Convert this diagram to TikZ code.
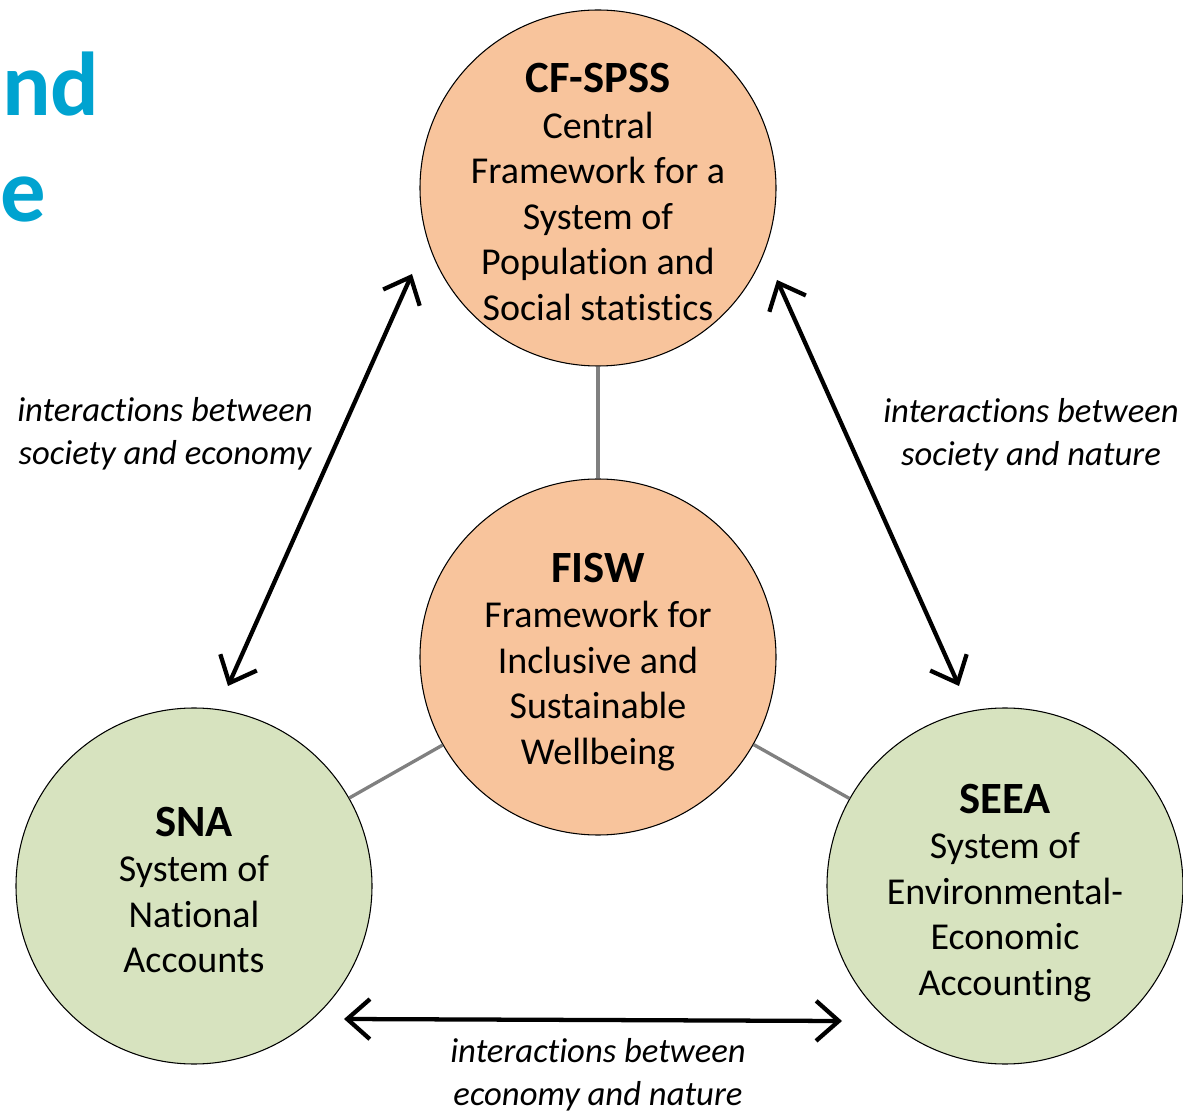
\documentclass[tikz,border=0pt]{standalone}
\usepackage{fontspec}
\setmainfont{Carlito}[Ligatures=NoCommon]
\usetikzlibrary{arrows.meta}
\definecolor{orangefill}{HTML}{F8C49C}
\definecolor{greenfill}{HTML}{D7E3BF}
\definecolor{titleblue}{HTML}{00A3D0}
\definecolor{linkgray}{HTML}{808080}
\newcommand\bubbletitle[1]{{\fontsize{33.5}{38}\selectfont\bfseries #1}}
\begin{document}
\begin{tikzpicture}[x=0.75pt,y=-0.75pt,
  bubble/.style={circle,draw=black,line width=0.8pt,minimum size=267pt,inner sep=0pt},
  orangeb/.style={bubble,fill=orangefill},
  greenb/.style={bubble,fill=greenfill},
  btext/.style={align=center,font=\fontsize{28.5}{34.2}\selectfont,inner sep=0pt},
  ilabel/.style={align=center,font=\fontsize{26}{32}\selectfont\itshape,inner sep=0pt},
  link/.style={draw=linkgray,line width=2.5pt},
  interact/.style={draw=black,line width=3.2pt,{Straight Barb[length=17pt,width=30pt]}-{Straight Barb[length=17pt,width=30pt]}}]
\useasboundingbox (0,0) rectangle (1183,1112);
% title fragment
\node[anchor=base west,inner sep=0pt,text=titleblue,font=\fontsize{68}{80}\selectfont\bfseries] (tt1) at (2,116) {nd};
\node[anchor=base west,inner sep=0pt,text=titleblue,font=\fontsize{68}{80}\selectfont\bfseries] (tt2) at (0,222) {e};
% circles
\node[orangeb] (cf) at (598,188) {};
\node[orangeb] (fisw) at (598,657) {};
\node[greenb] (sna) at (194,886) {};
\node[greenb] (seea) at (1005,886) {};
% links
\draw[link] (cf) -- (fisw);
\draw[link] (fisw) -- (sna);
\draw[link] (fisw) -- (seea);
% texts
\node[btext] (cft) at (598,192) {\bubbletitle{CF-SPSS}\\Central\\Framework for a\\System of\\Population and\\Social statistics};
\node[btext] (fiswt) at (598,662) {\bubbletitle{FISW}\\Framework for\\Inclusive and\\Sustainable\\Wellbeing};
\node[btext] (snat) at (194,890) {\bubbletitle{SNA}\\System of\\National\\Accounts};
\node[btext] (seeat) at (1005,893) {\bubbletitle{SEEA}\\System of\\Environmental-\\Economic\\Accounting};
% arrows
\coordinate (a1) at (228,686);
\coordinate (a2) at (412,274);
\coordinate (b1) at (777,280);
\coordinate (b2) at (959,686);
\coordinate (c1) at (344,1019);
\coordinate (c2) at (842,1021);
\draw[interact] (a1) -- (a2);
\draw[interact] (b1) -- (b2);
\draw[interact] (c1) -- (c2);
% labels
\node[ilabel] (l1) at (165,434) {interactions between\\society and economy};
\node[ilabel] (l2) at (1031,435) {interactions between\\society and nature};
\node[ilabel] (l3) at (598,1075) {interactions between\\economy and nature};
\end{tikzpicture}
\end{document}
